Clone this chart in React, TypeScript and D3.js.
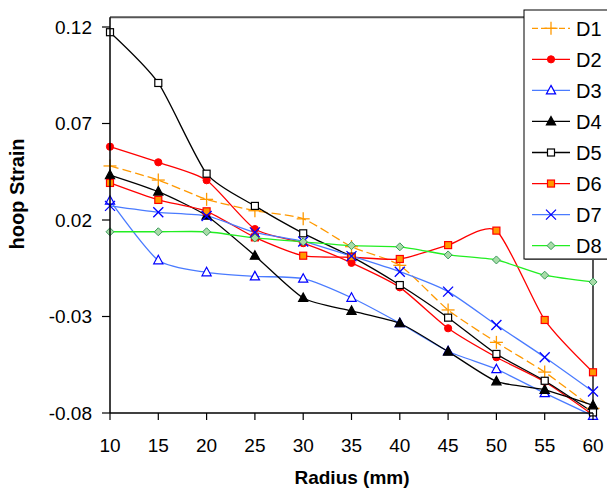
import React from "react";
import * as d3 from "d3";

const radius = [10, 15, 20, 25, 30, 35, 40, 45, 50, 55, 60];
const D1 = [0.048, 0.0407, 0.0307, 0.0248, 0.0206, 0.0062, -0.0035, -0.0266, -0.0434, -0.0588, -0.0776];
const D2 = [0.058, 0.0499, 0.0406, 0.0153, 0.008, -0.0022, -0.0149, -0.0361, -0.0511, -0.0638, -0.081];
const D3 = [0.03, -0.0009, -0.0071, -0.0092, -0.0104, -0.0203, -0.0335, -0.048, -0.0573, -0.0697, -0.0815];
const D4 = [0.0433, 0.0347, 0.0222, 0.0015, -0.0204, -0.0271, -0.0335, -0.0482, -0.0636, -0.068, -0.076];
const D5 = [0.1173, 0.091, 0.044, 0.0273, 0.0131, 0.001, -0.0137, -0.0306, -0.0494, -0.0633, -0.0797];
const D6 = [0.0392, 0.0304, 0.0245, 0.011, 0.0015, 0.0007, -0.0002, 0.007, 0.0145, -0.0318, -0.0589];
const D7 = [0.0273, 0.024, 0.0221, 0.0136, 0.0089, 0.0013, -0.0068, -0.0171, -0.0344, -0.0511, -0.0689];
const D8 = [0.0139, 0.0139, 0.0139, 0.0107, 0.0087, 0.0067, 0.0061, 0.0019, -0.0007, -0.0086, -0.0121];

const seriesNames = ["D1", "D2", "D3", "D4", "D5", "D6", "D7", "D8"];
const seriesValues = [D1, D2, D3, D4, D5, D6, D7, D8];
const yTicks = [-0.08, -0.03, 0.02, 0.07, 0.12];
const xTicks = [10, 15, 20, 25, 30, 35, 40, 45, 50, 55, 60];

type Style = { line: string; dash?: string; marker: string; fill: string; stroke: string };
const styles: Style[] = [
  { line: "#FF9900", dash: "9,4", marker: "plus", fill: "none", stroke: "#FF9900" },
  { line: "#FF0000", marker: "circle", fill: "#FF0000", stroke: "#FF0000" },
  { line: "#4A7BFF", marker: "triangle", fill: "white", stroke: "#0000FF" },
  { line: "#000000", marker: "triangle", fill: "#000000", stroke: "#000000" },
  { line: "#000000", marker: "square", fill: "white", stroke: "#000000" },
  { line: "#FF0000", marker: "square", fill: "#FF9900", stroke: "#FF0000" },
  { line: "#4A7BFF", marker: "x", fill: "none", stroke: "#0000FF" },
  { line: "#22EE22", marker: "diamond", fill: "#A8DCA8", stroke: "#3A9A5A" },
];

function Marker({ type, cx, cy, fill, stroke }: { type: string; cx: number; cy: number; fill: string; stroke: string }) {
  switch (type) {
    case "plus":
      return (
        <g stroke={stroke} strokeWidth={1.3}>
          <line x1={cx - 6.5} x2={cx + 6.5} y1={cy} y2={cy} />
          <line x1={cx} x2={cx} y1={cy - 6.5} y2={cy + 6.5} />
        </g>
      );
    case "circle":
      return <circle cx={cx} cy={cy} r={3.6} fill={fill} stroke={stroke} />;
    case "triangle":
      return (
        <path
          d={`M${cx},${cy - 5} L${cx + 4.6},${cy + 3.5} L${cx - 4.6},${cy + 3.5} Z`}
          fill={fill}
          stroke={stroke}
          strokeWidth={1.2}
        />
      );
    case "square":
      return <rect x={cx - 3.5} y={cy - 3.5} width={7} height={7} fill={fill} stroke={stroke} strokeWidth={1.2} />;
    case "x":
      return (
        <g stroke={stroke} strokeWidth={1.3}>
          <line x1={cx - 5} x2={cx + 5} y1={cy - 5} y2={cy + 5} />
          <line x1={cx - 5} x2={cx + 5} y1={cy + 5} y2={cy - 5} />
        </g>
      );
    case "diamond":
      return (
        <path
          d={`M${cx},${cy - 4} L${cx + 4},${cy} L${cx},${cy + 4} L${cx - 4},${cy} Z`}
          fill={fill}
          stroke={stroke}
          strokeWidth={1}
        />
      );
    default:
      return null;
  }
}

export default function App() {
  const W = 607;
  const H = 491;
  const x = d3.scaleLinear().domain([10, 60]).range([110, 593]);
  const y = d3.scaleLinear().domain([-0.08, 0.12]).range([413, 27]);
  const top = y(0.125);
  const line = d3
    .line<number>()
    .x((_, i) => x(radius[i]))
    .y((d) => y(d))
    .curve(d3.curveCardinal.tension(0.35));
  const font = "Liberation Sans, Arial, sans-serif";
  const legX = 524;
  const legY = 10;
  const legStep = 31.05;

  return (
    <svg width={W} height={H} style={{ position: "absolute", left: 0, top: 0 }} fontFamily={font}>
      <rect width={W} height={H} fill="white" />
      <line x1={110} x2={593} y1={top} y2={top} stroke="#555" strokeWidth={2} />
      <line x1={593} x2={593} y1={top} y2={413} stroke="#555" strokeWidth={2} />
      {seriesValues.map((vals, si) => (
        <path
          key={"l" + si}
          d={line(vals) || ""}
          fill="none"
          stroke={styles[si].line}
          strokeWidth={1.3}
          strokeDasharray={styles[si].dash}
        />
      ))}
      {seriesValues.map((vals, si) => (
        <g key={"m" + si}>
          {vals.map((v, i) => (
            <Marker
              key={i}
              type={styles[si].marker}
              cx={x(radius[i])}
              cy={y(v)}
              fill={styles[si].fill}
              stroke={styles[si].stroke}
            />
          ))}
        </g>
      ))}
      <line x1={110} x2={110} y1={top} y2={413} stroke="black" strokeWidth={1.5} />
      <line x1={110} x2={593} y1={413} y2={413} stroke="black" strokeWidth={1.5} />
      {yTicks.map((t) => (
        <g key={"yt" + t}>
          <line x1={102} x2={110} y1={y(t)} y2={y(t)} stroke="black" strokeWidth={1.2} />
          <text x={92} y={y(t)} dy="0.35em" textAnchor="end" fontSize={19} fill="black">
            {d3.format(".2f")(t).replace("−", "-")}
          </text>
        </g>
      ))}
      {xTicks.map((t) => (
        <g key={"xt" + t}>
          <line x1={x(t)} x2={x(t)} y1={413} y2={420} stroke="black" strokeWidth={1.2} />
          <text x={x(t)} y={452} textAnchor="middle" fontSize={19} fill="black">
            {t}
          </text>
        </g>
      ))}
      <text x={352} y={484} textAnchor="middle" fontSize={19} fontWeight="bold" fill="black">
        Radius (mm)
      </text>
      <text
        transform={`translate(24,${194}) rotate(-90)`}
        textAnchor="middle"
        fontSize={20}
        fontWeight="bold"
        fill="black"
      >
        hoop Strain
      </text>
      <rect x={legX + 1} y={legY + 1} width={100} height={249} fill="#888" />
      <rect x={legX} y={legY} width={100} height={249} fill="white" stroke="black" strokeWidth={1} />
      {seriesNames.map((name, i) => {
        const cy = legY + 18.3 + i * legStep;
        const s = styles[i];
        return (
          <g key={"lg" + name}>
            <line x1={532} x2={570} y1={cy} y2={cy} stroke={s.line} strokeWidth={1.3} strokeDasharray={s.dash ? "6,3" : undefined} />
            <Marker type={s.marker} cx={551} cy={cy} fill={s.fill} stroke={s.stroke} />
            <text x={576} y={cy} dy="0.36em" fontSize={20} fill="black">
              {name}
            </text>
          </g>
        );
      })}
    </svg>
  );
}
